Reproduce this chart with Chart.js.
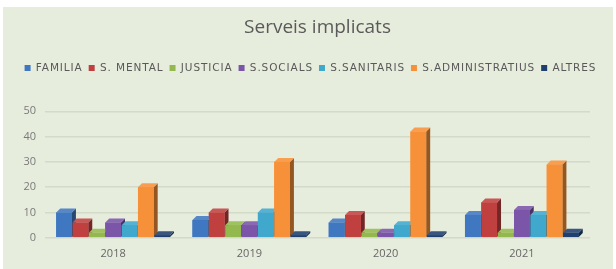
<!DOCTYPE html>
<html><head><meta charset="utf-8">
<script src="https://cdn.jsdelivr.net/npm/chart.js@4"></script>
<style>
html,body{margin:0;padding:0;background:#fff;width:616px;height:269px;overflow:hidden}
#wrap{position:absolute;left:3px;top:7px;width:610px;height:262px;background:#e7eddd}
</style></head><body>
<div id="wrap"><canvas id="c" width="610" height="262"></canvas></div>
<script>
const categories = ['2018', '2019', '2020', '2021'];
const seriesNames = ['FAMILIA', 'S. MENTAL', 'JUSTICIA', 'S.SOCIALS', 'S.SANITARIS', 'S.ADMINISTRATIUS', 'ALTRES'];
const familia = [10, 7, 6, 9];
const mental = [6, 10, 9, 14];
const justicia = [2, 5, 2, 2];
const socials = [6, 5, 2, 11];
const sanitaris = [5, 10, 5, 9];
const administratius = [20, 30, 42, 29];
const altres = [1, 1, 1, 2];
const yTicks = [0, 10, 20, 30, 40, 50];
const colors = ['#3f78c0', '#c0403f', '#93b84d', '#7a55a8', '#3fa8cc', '#f79139', '#1f3f6e'];

function shade(hex, f){
  const n=parseInt(hex.slice(1),16);
  let r=(n>>16)&255,g=(n>>8)&255,b=n&255;
  if(f<0){r=r*(1+f);g=g*(1+f);b=b*(1+f);}else{r=r+(255-r)*f;g=g+(255-g)*f;b=b+(255-b)*f;}
  return 'rgb('+Math.round(r)+','+Math.round(g)+','+Math.round(b)+')';
}
const LS='0.9px';
const depth = {id:'depth',
  afterInit(chart){
    const lg=chart.legend; const f=lg.fit, d=lg.draw;
    lg.fit=function(){const c=this.ctx; c.save(); c.letterSpacing=LS; f.call(this); c.restore(); this.height+=28;};
    lg.draw=function(){const c=this.ctx; c.save(); c.letterSpacing=LS; c.translate(14,0); d.call(this); c.restore();};
  },
  afterDatasetsDraw(chart){
    const ctx=chart.ctx; const dx=4, dy=-4;
    const n=chart.data.labels.length;
    for(let j=0;j<n;j++){
      chart.data.datasets.forEach((ds,i)=>{
        const el=chart.getDatasetMeta(i).data[j];
        const left=el.x-el.width/2, right=el.x+el.width/2, top=el.y, bot=el.base;
        ctx.fillStyle=shade(colors[i],-0.4);
        ctx.beginPath();ctx.moveTo(right,top);ctx.lineTo(right+dx,top+dy);ctx.lineTo(right+dx,bot+dy);ctx.lineTo(right,bot);ctx.closePath();ctx.fill();
        ctx.fillStyle=shade(colors[i],0.12);
        ctx.beginPath();ctx.moveTo(left,top);ctx.lineTo(left+dx,top+dy);ctx.lineTo(right+dx,top+dy);ctx.lineTo(right,top);ctx.closePath();ctx.fill();
        ctx.fillStyle=colors[i];
        ctx.fillRect(left,top,right-left,bot-top);
      });
    }
  }};

const vals=[familia,mental,justicia,socials,sanitaris,administratius,altres];
new Chart(document.getElementById('c'),{
  type:'bar',
  data:{labels:categories,datasets:seriesNames.map((n,i)=>({label:n,data:vals[i],backgroundColor:colors[i],borderWidth:0,categoryPercentage:0.84,barPercentage:0.96}))},
  plugins:[depth],
  options:{
    responsive:false,animation:false,
    layout:{padding:{left:0,right:23,top:4,bottom:0}},
    plugins:{
      title:{display:true,fullSize:false,text:'Serveis implicats',color:'#5a5a5a',font:{family:'Open Sans',size:19,weight:'normal'},padding:{top:5,bottom:18}},
      legend:{labels:{color:'#595959',font:{family:'DejaVu Sans',size:10.5},boxWidth:6,boxHeight:6,padding:6},padding:0},
      tooltip:{enabled:false}
    },
    scales:{
      x:{grid:{display:false,drawTicks:false,tickLength:0},border:{display:false},ticks:{color:'#666',font:{family:'Open Sans',size:11},padding:9}},
      y:{min:0,max:50,afterBuildTicks:s=>{s.ticks=yTicks.map(v=>({value:v}));},afterFit:s=>{s.width=42;},
         grid:{color:'#d3dac8',lineWidth:1.5,drawTicks:false},border:{display:false},
         ticks:{color:'#7a7a7a',font:{family:'Open Sans',size:11},padding:9}}
    }
  }
});
</script></body></html>
